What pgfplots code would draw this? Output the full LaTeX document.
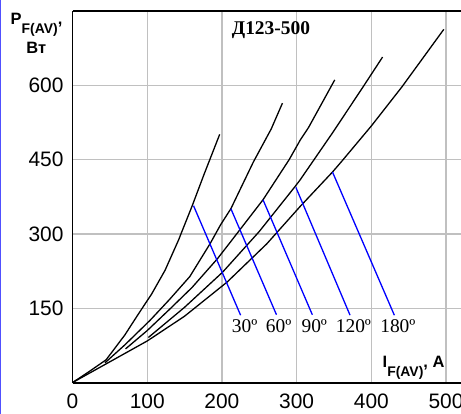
\documentclass[border=0pt]{standalone}
\usepackage{fontspec}
\setmainfont{Liberation Sans}
\newfontfamily\seriffont{Liberation Serif}
\usepackage{pgfplots}
\pgfplotsset{compat=1.18}
\definecolor{gridgray}{RGB}{192,192,192}
\definecolor{lblue}{RGB}{0,0,255}
\begin{document}
\begin{tikzpicture}
\useasboundingbox (0,0) rectangle (461bp,414bp);
\fill[white] (0,0) rectangle (461bp,414bp);
\draw[color={rgb,255:red,80;green,80;blue,255}, line width=1.2bp] (0.6bp,0) -- (0.6bp,414bp);
\begin{axis}[
  at={(72.5bp,31.4bp)}, anchor=south west,
  scale only axis, width=388.5bp, height=371.6bp,
  xmin=0, xmax=520, ymin=0, ymax=750,
  xtick={0,100,200,300,400,500}, ytick={150,300,450,600},
  grid=major, grid style={line width=1.2bp, color=gridgray},
  axis x line*=bottom, axis y line*=left,
  axis line style={line width=1.8bp, -},
  major tick length=0pt,
  tick label style={font=\fontsize{21}{21}\selectfont},
  /pgf/number format/assume math mode=true,
  xticklabel style={yshift=-7.4bp},
  yticklabel style={xshift=-5.5bp},
  clip=false,
]
\draw[line width=1.8bp] (rel axis cs:0,1) -- (rel axis cs:1,1);
% 30 deg
\addplot[black, line width=1.3bp] coordinates {(0,0) (22,22) (45,46) (70,96) (88,138) (106,179) (124,227) (142,288) (160,356) (176,420) (197,501)};
% 60 deg
\addplot[black, line width=1.3bp] coordinates {(43.5,40) (70,76) (104,126) (130,168) (157,214) (184,280) (198,318) (212,351) (242,445) (266,512) (281,564)};
% 90 deg
\addplot[black, line width=1.3bp] coordinates {(71,68) (100,105) (130,148) (160,192) (194,250) (211,283) (255,369) (290,450) (305,490) (316,515) (351,611)};
% 120 deg
\addplot[black, line width=1.3bp] coordinates {(101.5,91) (150,152) (201,223) (250,305) (297,394) (304.6,409) (348,504) (389,597) (415,657)};
% 180 deg
\addplot[black, line width=1.3bp] coordinates {(0,0) (50,42) (100,84) (150,134) (207,203) (260,280) (305,356) (348,425) (360,446) (400,518) (441,597) (497,713)};
% blue leader lines
\addplot[lblue, line width=1.3bp] coordinates {(162,357) (225,136)};
\addplot[lblue, line width=1.3bp] coordinates {(212,351) (273,137)};
\addplot[lblue, line width=1.3bp] coordinates {(255,369) (321,137)};
\addplot[lblue, line width=1.3bp] coordinates {(299,394) (371.5,136)};
\addplot[lblue, line width=1.3bp] coordinates {(348,425) (430.8,136)};
% angle labels
\node[anchor=base, font=\seriffont\fontsize{19.5}{20}\selectfont, inner sep=0pt] at (axis cs:230.5,100.7) {30º};
\node[anchor=base, font=\seriffont\fontsize{19.5}{20}\selectfont, inner sep=0pt] at (axis cs:276,100.7) {60º};
\node[anchor=base, font=\seriffont\fontsize{19.5}{20}\selectfont, inner sep=0pt] at (axis cs:323.6,100.7) {90º};
\node[anchor=base, font=\seriffont\fontsize{19.5}{20}\selectfont, inner sep=0pt] at (axis cs:376,100.7) {120º};
\node[anchor=base, font=\seriffont\fontsize{19.5}{20}\selectfont, inner sep=0pt] at (axis cs:435.5,100.7) {180º};
\end{axis}
% title
\node[anchor=base west, inner sep=0pt, font=\seriffont\bfseries\fontsize{19.5}{20}\selectfont] at (231.7bp,379bp) {Д123-500};
% y label
\node[anchor=base west, inner sep=0pt, font=\bfseries\fontsize{16.5}{17}\selectfont] at (10.5bp,389bp) {P\raisebox{-8.3bp}{\fontsize{14}{14}\selectfont F(AV)},};
\node[anchor=base west, inner sep=0pt, font=\bfseries\fontsize{16.5}{17}\selectfont] at (26.2bp,360.7bp) {Вт};
% x label
\node[anchor=base west, inner sep=0pt, font=\bfseries\fontsize{16.5}{17}\selectfont] at (382.5bp,46.7bp) {I\raisebox{-9.4bp}{\fontsize{14}{14}\selectfont F(AV)}, A};
\end{tikzpicture}
\end{document}
